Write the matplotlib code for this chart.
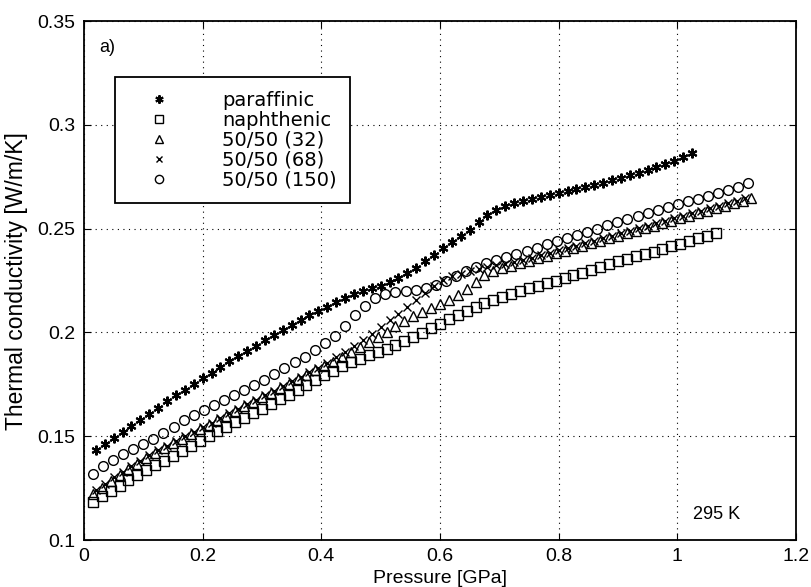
import matplotlib.pyplot as plt

plt.rcParams['font.family'] = ['Liberation Sans', 'DejaVu Sans']

# paraffinic (stars)
p_par = [0.020, 0.035, 0.050, 0.065, 0.080, 0.095, 0.110, 0.125, 0.140, 0.155,
         0.170, 0.185, 0.200, 0.215, 0.230, 0.245, 0.260, 0.275, 0.290, 0.305,
         0.320, 0.335, 0.350, 0.365, 0.380, 0.395, 0.410, 0.425, 0.440, 0.455,
         0.470, 0.485, 0.500, 0.515, 0.530, 0.545, 0.560, 0.575, 0.590, 0.605,
         0.620, 0.635, 0.650, 0.665, 0.680, 0.695, 0.710, 0.725, 0.740, 0.755,
         0.770, 0.785, 0.800, 0.815, 0.830, 0.845, 0.860, 0.875, 0.890, 0.905,
         0.920, 0.935, 0.950, 0.965, 0.980, 0.995, 1.010, 1.025]
k_par = [0.1435, 0.1465, 0.1490, 0.1520, 0.1548, 0.1576, 0.1605, 0.1638, 0.1668, 0.1697,
         0.1724, 0.1754, 0.1780, 0.1806, 0.1832, 0.1862, 0.1888, 0.1912, 0.1937, 0.1962,
         0.1986, 0.2010, 0.2035, 0.2060, 0.2082, 0.2103, 0.2125, 0.2148, 0.2168, 0.2185,
         0.2200, 0.2215, 0.2226, 0.2243, 0.2263, 0.2288, 0.2313, 0.2342, 0.2374, 0.2407,
         0.2435, 0.2464, 0.2496, 0.2534, 0.2566, 0.2590, 0.2608, 0.2622, 0.2633, 0.2643,
         0.2652, 0.2661, 0.2670, 0.2680, 0.2690, 0.2700, 0.2711, 0.2722, 0.2733, 0.2745,
         0.2757, 0.2770, 0.2783, 0.2796, 0.2810, 0.2827, 0.2845, 0.2864]

# naphthenic (squares)
p_nap = [0.015, 0.030, 0.045, 0.060, 0.075, 0.090, 0.105, 0.120, 0.135, 0.150,
         0.165, 0.180, 0.195, 0.210, 0.225, 0.240, 0.255, 0.270, 0.285, 0.300,
         0.315, 0.330, 0.345, 0.360, 0.375, 0.390, 0.405, 0.420, 0.435, 0.450,
         0.465, 0.480, 0.495, 0.510, 0.525, 0.540, 0.555, 0.570, 0.585, 0.600,
         0.615, 0.630, 0.645, 0.660, 0.675, 0.690, 0.705, 0.720, 0.735, 0.750,
         0.765, 0.780, 0.795, 0.810, 0.825, 0.840, 0.855, 0.870, 0.885, 0.900,
         0.915, 0.930, 0.945, 0.960, 0.975, 0.990, 1.005, 1.020, 1.035, 1.050, 1.065]
k_nap = [0.1185, 0.1210, 0.1237, 0.1262, 0.1287, 0.1312, 0.1337, 0.1360, 0.1383, 0.1405,
         0.1428, 0.1452, 0.1478, 0.1502, 0.1524, 0.1546, 0.1567, 0.1589, 0.1611, 0.1633,
         0.1656, 0.1678, 0.1701, 0.1724, 0.1747, 0.1770, 0.1793, 0.1815, 0.1838, 0.1858,
         0.1874, 0.1890, 0.1905, 0.1922, 0.1940, 0.1958, 0.1978, 0.1998, 0.2020, 0.2042,
         0.2064, 0.2085, 0.2105, 0.2124, 0.2142, 0.2158, 0.2172, 0.2186, 0.2200, 0.2213,
         0.2226, 0.2238, 0.2250, 0.2262, 0.2275, 0.2288, 0.2302, 0.2316, 0.2330, 0.2343,
         0.2355, 0.2367, 0.2378, 0.2390, 0.2402, 0.2415, 0.2428, 0.2441, 0.2453, 0.2466, 0.2478]

# 50/50 (32) (triangles)
p_32 = [0.015, 0.030, 0.045, 0.060, 0.075, 0.090, 0.105, 0.120, 0.135, 0.150,
        0.165, 0.180, 0.195, 0.210, 0.225, 0.240, 0.255, 0.270, 0.285, 0.300,
        0.315, 0.330, 0.345, 0.360, 0.375, 0.390, 0.405, 0.420, 0.435, 0.450,
        0.465, 0.480, 0.495, 0.510, 0.525, 0.540, 0.555, 0.570, 0.585, 0.600,
        0.615, 0.630, 0.645, 0.660, 0.675, 0.690, 0.705, 0.720, 0.735, 0.750,
        0.765, 0.780, 0.795, 0.810, 0.825, 0.840, 0.855, 0.870, 0.885, 0.900,
        0.915, 0.930, 0.945, 0.960, 0.975, 0.990, 1.005, 1.020, 1.035, 1.050,
        1.065, 1.080, 1.095, 1.110, 1.125]
k_32 = [0.1220, 0.1252, 0.1283, 0.1312, 0.1340, 0.1367, 0.1393, 0.1418, 0.1442, 0.1466,
        0.1489, 0.1511, 0.1533, 0.1555, 0.1578, 0.1600, 0.1622, 0.1644, 0.1666, 0.1688,
        0.1710, 0.1732, 0.1754, 0.1775, 0.1796, 0.1817, 0.1838, 0.1860, 0.1883, 0.1906,
        0.1930, 0.1955, 0.1978, 0.2002, 0.2030, 0.2055, 0.2078, 0.2098, 0.2116, 0.2135,
        0.2155, 0.2180, 0.2210, 0.2245, 0.2278, 0.2298, 0.2312, 0.2322, 0.2334, 0.2346,
        0.2358, 0.2370, 0.2382, 0.2394, 0.2406, 0.2418, 0.2430, 0.2442, 0.2454, 0.2466,
        0.2478, 0.2490, 0.2502, 0.2514, 0.2526, 0.2538, 0.2550, 0.2562, 0.2574, 0.2586,
        0.2598, 0.2610, 0.2622, 0.2634, 0.2646]

# 50/50 (68) (crosses)
p_68 = [0.020, 0.035, 0.050, 0.065, 0.080, 0.095, 0.110, 0.125, 0.140, 0.155,
        0.170, 0.185, 0.200, 0.215, 0.230, 0.245, 0.260, 0.275, 0.290, 0.305,
        0.320, 0.335, 0.350, 0.365, 0.380, 0.395, 0.410, 0.425, 0.440, 0.455,
        0.470, 0.485, 0.500, 0.515, 0.530, 0.545, 0.560, 0.575, 0.590, 0.605,
        0.620, 0.635, 0.650, 0.665, 0.680, 0.695, 0.710, 0.725, 0.740, 0.755,
        0.770, 0.785, 0.800, 0.815, 0.830, 0.845, 0.860, 0.875, 0.890, 0.905,
        0.920, 0.935, 0.950, 0.965, 0.980, 0.995, 1.010, 1.025, 1.040, 1.055,
        1.070, 1.085, 1.100, 1.115]
k_68 = [0.1240, 0.1272, 0.1302, 0.1330, 0.1357, 0.1383, 0.1408, 0.1432, 0.1455, 0.1478,
        0.1500, 0.1522, 0.1544, 0.1566, 0.1588, 0.1610, 0.1632, 0.1654, 0.1676, 0.1698,
        0.1720, 0.1742, 0.1764, 0.1786, 0.1808, 0.1830, 0.1855, 0.1880, 0.1906, 0.1934,
        0.1964, 0.1995, 0.2026, 0.2058, 0.2090, 0.2122, 0.2155, 0.2190, 0.2225, 0.2252,
        0.2270, 0.2284, 0.2296, 0.2306, 0.2315, 0.2323, 0.2331, 0.2340, 0.2350, 0.2361,
        0.2372, 0.2383, 0.2395, 0.2407, 0.2419, 0.2431, 0.2443, 0.2455, 0.2467, 0.2479,
        0.2491, 0.2503, 0.2515, 0.2527, 0.2539, 0.2551, 0.2563, 0.2575, 0.2587, 0.2599,
        0.2611, 0.2623, 0.2635, 0.2647]

# 50/50 (150) (circles)
p_150 = [0.015, 0.032, 0.049, 0.066, 0.083, 0.100, 0.117, 0.134, 0.151, 0.168,
         0.185, 0.202, 0.219, 0.236, 0.253, 0.270, 0.287, 0.304, 0.321, 0.338,
         0.355, 0.372, 0.389, 0.406, 0.423, 0.440, 0.457, 0.474, 0.491, 0.508,
         0.525, 0.542, 0.559, 0.576, 0.593, 0.610, 0.627, 0.644, 0.661, 0.678,
         0.695, 0.712, 0.729, 0.746, 0.763, 0.780, 0.797, 0.814, 0.831, 0.848,
         0.865, 0.882, 0.899, 0.916, 0.933, 0.950, 0.967, 0.984, 1.001, 1.018,
         1.035, 1.052, 1.069, 1.086, 1.103, 1.120]
k_150 = [0.1320, 0.1355, 0.1388, 0.1415, 0.1440, 0.1462, 0.1487, 0.1515, 0.1545, 0.1576,
         0.1602, 0.1628, 0.1652, 0.1675, 0.1697, 0.1722, 0.1745, 0.1772, 0.1800, 0.1828,
         0.1856, 0.1884, 0.1915, 0.1948, 0.1985, 0.2032, 0.2082, 0.2128, 0.2165, 0.2185,
         0.2193, 0.2198, 0.2204, 0.2215, 0.2230, 0.2250, 0.2274, 0.2296, 0.2315, 0.2333,
         0.2348, 0.2363, 0.2378, 0.2393, 0.2408, 0.2424, 0.2440, 0.2455, 0.2470, 0.2485,
         0.2500, 0.2516, 0.2532, 0.2548, 0.2563, 0.2578, 0.2592, 0.2606, 0.2620, 0.2633,
         0.2645, 0.2658, 0.2672, 0.2688, 0.2703, 0.2718]

xticks = [0, 0.2, 0.4, 0.6, 0.8, 1.0, 1.2]
xticklabels = ['0', '0.2', '0.4', '0.6', '0.8', '1', '1.2']
yticks = [0.1, 0.15, 0.2, 0.25, 0.3, 0.35]
yticklabels = ['0.1', '0.15', '0.2', '0.25', '0.3', '0.35']

fig = plt.figure(figsize=(8.12, 5.87), dpi=100)
ax = fig.add_axes([0.1034, 0.080, 0.8768, 0.884])

ms = 7
ax.plot(p_par, k_par, ls='none', marker=(6, 2, 0), ms=ms, color='k', mew=1.5, label='paraffinic')
ax.plot(p_nap, k_nap, ls='none', marker='s', ms=ms, mfc='none', mec='k', mew=1.0, label='naphthenic')
ax.plot(p_32, k_32, ls='none', marker='^', ms=ms, mfc='none', mec='k', mew=1.0, label='50/50 (32)')
ax.plot(p_68, k_68, ls='none', marker='x', ms=5.5, color='k', mew=1.0, label='50/50 (68)')
ax.plot(p_150, k_150, ls='none', marker='o', ms=ms, mfc='none', mec='k', mew=1.0, label='50/50 (150)')

ax.set_xlim(0, 1.2)
ax.set_ylim(0.1, 0.35)
ax.set_xticks(xticks)
ax.set_xticklabels(xticklabels)
ax.set_yticks(yticks)
ax.set_yticklabels(yticklabels)
ax.tick_params(direction='in', top=True, right=True, length=5, labelsize=14, pad=6)
ax.grid(True, linestyle=(0, (1, 4)), color='k', linewidth=0.8)
for s in ax.spines.values():
    s.set_linewidth(1.3)

ax.set_xlabel('Pressure [GPa]', fontsize=14)
ax.set_ylabel('Thermal conductivity [W/m/K]', fontsize=16.5)
ax.xaxis.set_label_coords(0.5, -0.057)
ax.yaxis.set_label_coords(-0.079, 0.5)

ax.text(0.022, 0.95, 'a)', transform=ax.transAxes, fontsize=13, ha='left', va='center')
ax.text(0.888, 0.05, '295 K', transform=ax.transAxes, fontsize=13, ha='center', va='center')

leg = ax.legend(loc='upper left', bbox_to_anchor=(0.0435, 0.892), borderaxespad=0,
                prop={'family': 'DejaVu Sans', 'size': 14}, fancybox=False,
                framealpha=1, edgecolor='k', markerscale=0.85,
                borderpad=0.7, handlelength=3.1, handletextpad=1.7, labelspacing=0.05)
leg.get_frame().set_linewidth(1.3)

fig.savefig('out.png', dpi=100)
